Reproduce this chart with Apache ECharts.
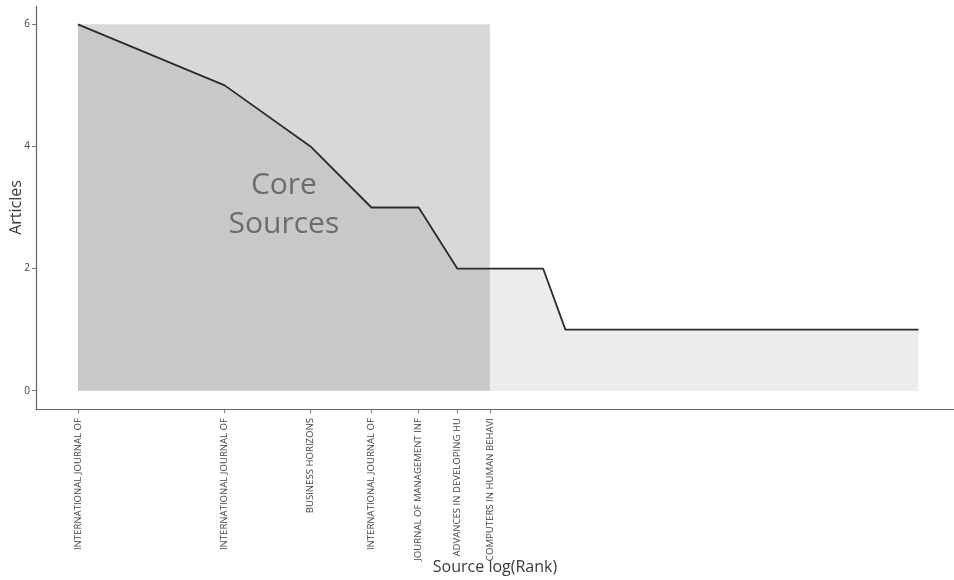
<!DOCTYPE html>
<html>
<head>
<meta charset="utf-8">
<title>Core Sources by Bradford's Law</title>
<script src="https://cdn.jsdelivr.net/npm/echarts@6/dist/echarts.min.js"></script>
<style>
  html, body { margin: 0; padding: 0; background: #fff; }
  #chart { width: 954px; height: 580px; }
</style>
</head>
<body>
<div id="chart"></div>
<script>
// Articles per source, sources ordered by rank (1 = most productive)
const articles = [
  6, 5, 4, 3, 3, 2, 2, 2, 2, 1,
  1, 1, 1, 1, 1, 1, 1, 1, 1, 1,
  1, 1, 1, 1, 1, 1, 1, 1, 1, 1,
  1, 1, 1, 1, 1, 1, 1, 1, 1, 1,
  1, 1, 1, 1, 1, 1, 1, 1, 1, 1,
  1, 1, 1
];

// Core zone sources (Bradford zone 1), truncated names as labels
const coreSources = [
  'INTERNATIONAL JOURNAL OF',
  'INTERNATIONAL JOURNAL OF',
  'BUSINESS HORIZONS',
  'INTERNATIONAL JOURNAL OF',
  'JOURNAL OF MANAGEMENT INF',
  'ADVANCES IN DEVELOPING HU',
  'COMPUTERS IN HUMAN BEHAVI'
];

const yTicks = [0, 2, 4, 6];

// Points on a log(rank) scale
const curve = articles.map((v, i) => [Math.log(i + 1), v]);
const coreEnd = Math.log(coreSources.length);
const coreMax = Math.max(...articles);
const coreTickValues = coreSources.map((_, i) => Math.log(i + 1));

const chart = echarts.init(document.getElementById('chart'));
const FONT = '"Open Sans", "DejaVu Sans", sans-serif';

chart.setOption({
  animation: false,
  backgroundColor: '#ffffff',
  grid: { left: 36, right: 0, top: 6, bottom: 171, containLabel: false, outerBoundsMode: 'none' },
  xAxis: {
    type: 'value',
    min: -0.198,
    max: 4.138,
    name: 'Source log(Rank)',
    nameLocation: 'middle',
    nameGap: 150,
    nameMoveOverlap: false,
    nameTextStyle: { fontFamily: FONT, fontSize: 16, color: '#3a3a3a' },
    splitLine: { show: false },
    axisLine: { onZero: false, lineStyle: { color: '#666', width: 1.2 } },
    axisTick: {
      customValues: coreTickValues,
      length: 4,
      lineStyle: { color: '#777' }
    },
    axisLabel: {
      customValues: coreTickValues,
      rotate: 90,
      margin: 9,
      fontFamily: FONT,
      fontSize: 9.6,
      color: '#444',
      formatter: v => coreSources[Math.round(Math.exp(v)) - 1] || ''
    }
  },
  yAxis: {
    type: 'value',
    min: -0.3,
    max: 6.3,
    name: 'Articles',
    nameLocation: 'middle',
    nameGap: 12,
    nameMoveOverlap: false,
    nameTextStyle: { fontFamily: FONT, fontSize: 16, color: '#3a3a3a' },
    splitLine: { show: false },
    axisLine: { show: true, onZero: false, lineStyle: { color: '#666', width: 1.2 } },
    axisTick: {
      show: true,
      customValues: yTicks,
      length: 4,
      lineStyle: { color: '#777' }
    },
    axisLabel: {
      customValues: yTicks,
      margin: 6,
      fontFamily: FONT,
      fontSize: 10,
      color: '#444'
    }
  },
  series: [
    {
      // filled area under the curve
      type: 'line',
      data: curve,
      symbol: 'none',
      lineStyle: { width: 0 },
      areaStyle: { color: '#ececec', opacity: 1 },
      z: 1
    },
    {
      // translucent overlay marking the core sources zone
      type: 'custom',
      data: [[0, 0, coreEnd, coreMax]],
      z: 2,
      silent: true,
      renderItem: (params, api) => {
        const p0 = api.coord([api.value(0), api.value(1)]);
        const p1 = api.coord([api.value(2), api.value(3)]);
        return {
          type: 'rect',
          shape: { x: p0[0], y: p1[1], width: p1[0] - p0[0], height: p0[1] - p1[1] },
          style: { fill: 'rgba(0,0,0,0.153)' }
        };
      }
    },
    {
      type: 'line',
      data: curve,
      symbol: 'none',
      lineStyle: { color: '#2b2b2b', width: 1.8 },
      z: 3
    },
    {
      type: 'scatter',
      data: [[coreEnd / 2, 3.04]],
      symbolSize: 0,
      z: 4,
      label: {
        show: true,
        position: 'inside',
        formatter: 'Core\nSources',
        fontFamily: FONT,
        fontSize: 30,
        lineHeight: 39,
        color: '#555555',
        align: 'center'
      }
    }
  ]
});
</script>
</body>
</html>
